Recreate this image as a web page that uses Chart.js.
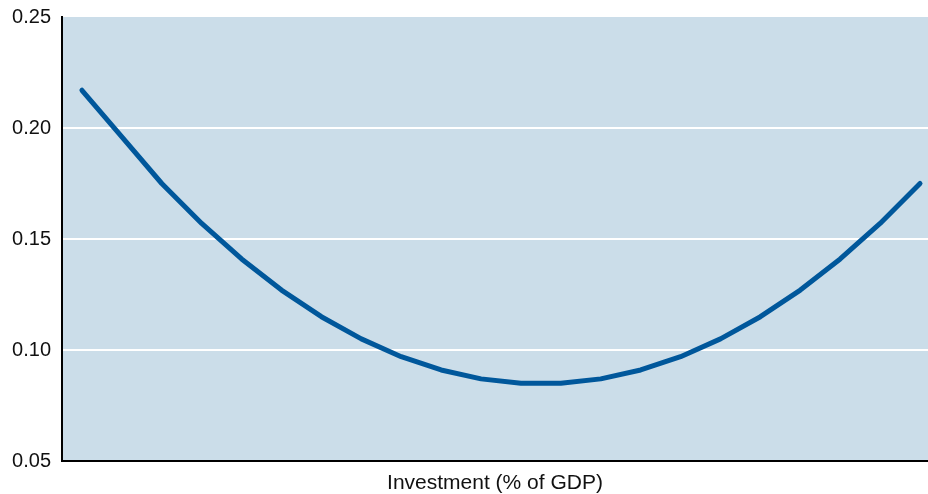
<!DOCTYPE html>
<html>
<head>
<meta charset="utf-8">
<script src="https://cdn.jsdelivr.net/npm/chart.js@4"></script>
<style>
    html, body { margin: 0; padding: 0; background: #ffffff; }
    #wrap { width: 928px; height: 494px; position: relative; }
</style>
</head>
<body>
<div id="wrap"><canvas id="curveChart"></canvas></div>
<script>
// Data
const xPositions = [0, 1, 2, 3, 4, 5, 6, 7, 8, 9, 10, 11, 12, 13, 14, 15, 16, 17, 18, 19, 20, 21];
const curveValues = [0.217, 0.196, 0.175, 0.157, 0.141, 0.127, 0.115, 0.105, 0.097, 0.091, 0.087,
                     0.085, 0.085, 0.087, 0.091, 0.097, 0.105, 0.115, 0.127, 0.141, 0.157, 0.175];
const yTicks = [0.05, 0.10, 0.15, 0.20, 0.25];
const xTitle = 'Investment (% of GDP)';

const FONT = '"Liberation Sans", Arial, Helvetica, sans-serif';

// Fill the plot area
const plotBackground = {
    id: 'plotBackground',
    beforeDraw(chart) {
        const { ctx, chartArea } = chart;
        ctx.save();
        ctx.fillStyle = '#cbdde9';
        ctx.fillRect(chartArea.left, chartArea.top, chartArea.right - chartArea.left, chartArea.bottom - chartArea.top);
        ctx.restore();
    }
};

const points = xPositions.map((x, i) => ({ x: x, y: curveValues[i] }));

new Chart(document.getElementById('curveChart'), {
    type: 'line',
    data: {
        datasets: [{
            data: points,
            borderColor: '#00579b',
            borderWidth: 5,
            pointRadius: 0,
            tension: 0,
            borderCapStyle: 'round',
            borderJoinStyle: 'round',
            fill: false
        }]
    },
    plugins: [plotBackground],
    options: {
        responsive: true,
        maintainAspectRatio: false,
        animation: false,
        layout: { padding: { top: 17, right: 0, left: 0, bottom: 0 } },
        plugins: {
            legend: { display: false },
            tooltip: { enabled: false }
        },
        scales: {
            x: {
                type: 'linear',
                min: -0.5,
                max: 21.2,
                ticks: { display: false },
                grid: { display: false, drawTicks: false },
                border: { display: true, color: '#000000', width: 2 },
                title: {
                    display: true,
                    text: xTitle,
                    color: '#111111',
                    font: { family: FONT, size: 21 },
                    padding: { top: 0, bottom: -2 }
                },
                afterFit(scale) { scale.height = 33; }
            },
            y: {
                min: 0.05,
                max: 0.25,
                afterBuildTicks(scale) {
                    scale.ticks = yTicks.map(v => ({ value: v }));
                },
                ticks: {
                    color: '#111111',
                    font: { family: FONT, size: 20 },
                    padding: 11,
                    callback: v => v.toFixed(2)
                },
                grid: {
                    drawTicks: false,
                    lineWidth: 2,
                    color: ctx => (ctx.tick && (ctx.tick.value === 0.05 || ctx.tick.value === 0.25)) ? 'rgba(0,0,0,0)' : '#ffffff'
                },
                border: { display: true, color: '#000000', width: 2 },
                afterFit(scale) {
                    scale.width = 62;
                    scale.paddingTop = 0;
                    scale.paddingBottom = 0;
                }
            }
        }
    }
});
</script>
</body>
</html>
